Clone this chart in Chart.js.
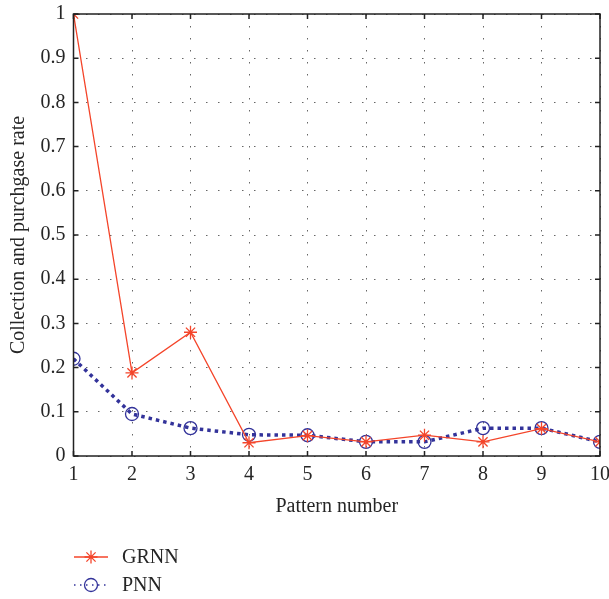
<!DOCTYPE html>
<html>
<head>
<meta charset="utf-8">
<script src="https://cdn.jsdelivr.net/npm/chart.js@4/dist/chart.umd.min.js"></script>
<style>
  html, body { margin: 0; padding: 0; background: #fff; }
  #wrap { width: 609px; height: 599px; }
</style>
</head>
<body>
<div id="wrap"><canvas id="chart"></canvas></div>
<script>
const patterns = [1, 2, 3, 4, 5, 6, 7, 8, 9, 10];
const grnnRate = [1.0, 0.188, 0.28, 0.03, 0.046, 0.032, 0.047, 0.032, 0.062, 0.032];
const pnnRate = [0.22, 0.095, 0.063, 0.048, 0.047, 0.032, 0.032, 0.063, 0.063, 0.032];

const FONT = "'Liberation Serif', 'DejaVu Serif', serif";
const TEXT = '#262626';
const SIZE = 20;

const toXY = (vals) => vals.map((v, i) => ({ x: patterns[i], y: v }));

// box around the plot with inward tick marks on every side
const framePlugin = {
  id: 'frame',
  afterDatasetsDraw(chart) {
    const { ctx, chartArea: a, scales } = chart;
    const len = 5;
    ctx.save();
    ctx.strokeStyle = '#222';
    ctx.lineWidth = 1.5;
    ctx.beginPath();
    scales.x.ticks.forEach(t => {
      const px = scales.x.getPixelForValue(t.value);
      ctx.moveTo(px, a.bottom); ctx.lineTo(px, a.bottom - len);
      ctx.moveTo(px, a.top); ctx.lineTo(px, a.top + len);
    });
    scales.y.ticks.forEach(t => {
      const py = scales.y.getPixelForValue(t.value);
      ctx.moveTo(a.left, py); ctx.lineTo(a.left + len, py);
      ctx.moveTo(a.right, py); ctx.lineTo(a.right - len, py);
    });
    ctx.stroke();
    ctx.strokeRect(a.left, a.top, a.right - a.left, a.bottom - a.top);
    ctx.restore();
  }
};

// legend below the axis: line sample with its marker, then the name
const sampleLegend = {
  id: 'sampleLegend',
  afterDraw(chart) {
    const { ctx } = chart;
    const x0 = 74, x1 = 108, tx = 122;
    const rows = [557, 585];
    ctx.save();
    chart.data.datasets.forEach((ds, i) => {
      const y = rows[i];
      ctx.strokeStyle = ds.borderColor;
      ctx.lineWidth = 1.5;
      ctx.setLineDash(ds.borderDash && ds.borderDash.length ? [1.5, 4.5] : []);
      ctx.beginPath();
      ctx.moveTo(x0, y); ctx.lineTo(x1, y);
      ctx.stroke();
      ctx.setLineDash([]);
      ctx.lineWidth = ds.pointBorderWidth;
      ctx.strokeStyle = ds.pointBorderColor;
      ctx.fillStyle = 'rgba(0,0,0,0)';
      Chart.helpers.drawPoint(ctx, {
        pointStyle: ds.pointStyle,
        radius: ds.pointRadius,
        borderWidth: ds.pointBorderWidth
      }, (x0 + x1) / 2, y);
      ctx.fillStyle = TEXT;
      ctx.font = SIZE + 'px ' + FONT;
      ctx.textBaseline = 'middle';
      ctx.fillText(ds.label, tx, y + 1);
    });
    ctx.restore();
  }
};

new Chart(document.getElementById('chart'), {
  type: 'line',
  data: {
    datasets: [
      {
        label: 'GRNN',
        data: toXY(grnnRate),
        borderColor: '#f4452a',
        borderWidth: 1.3,
        pointStyle: 'star',
        pointRadius: 6.5,
        pointBorderColor: '#f4452a',
        pointBorderWidth: 1.3,
        pointBackgroundColor: 'rgba(0,0,0,0)',
        order: 1
      },
      {
        label: 'PNN',
        data: toXY(pnnRate),
        borderColor: '#33339a',
        borderWidth: 3.5,
        borderDash: [3.5, 4],
        borderCapStyle: 'butt',
        pointStyle: 'circle',
        pointRadius: 6.5,
        pointBorderColor: '#33339a',
        pointBorderWidth: 1.3,
        pointBackgroundColor: 'rgba(0,0,0,0)',
        order: 2
      }
    ]
  },
  options: {
    responsive: true,
    maintainAspectRatio: false,
    animation: false,
    layout: { padding: { top: 14, right: 9, bottom: 80, left: 0 } },
    plugins: {
      legend: { display: false },
      tooltip: { enabled: false }
    },
    scales: {
      x: {
        type: 'linear',
        min: 1,
        max: 10,
        ticks: {
          stepSize: 1,
          padding: 7,
          color: TEXT,
          font: { family: FONT, size: SIZE },
          maxRotation: 0
        },
        grid: { color: '#666', lineWidth: 1, drawTicks: false },
        border: { display: false, dash: [1.5, 10.5] },
        title: {
          display: true,
          text: 'Pattern number',
          color: TEXT,
          font: { family: FONT, size: SIZE },
          padding: { top: 3, bottom: 0 }
        },
        afterFit(scale) {
          scale.height = 63;
          scale.paddingLeft = 0;
          scale.paddingRight = 0;
        }
      },
      y: {
        min: 0,
        max: 1,
        ticks: {
          stepSize: 0.1,
          padding: 8,
          color: TEXT,
          font: { family: FONT, size: SIZE },
          callback: (v) => String(Math.round(v * 10) / 10)
        },
        grid: { color: '#666', lineWidth: 1, drawTicks: false },
        border: { display: false, dash: [1.5, 10.5] },
        title: {
          display: true,
          text: 'Collection and purchgase rate',
          color: TEXT,
          font: { family: FONT, size: SIZE },
          padding: { top: 7, bottom: 2 }
        },
        afterFit(scale) {
          scale.width = 73.5;
          scale.paddingTop = 0;
          scale.paddingBottom = 0;
        }
      }
    }
  },
  plugins: [framePlugin, sampleLegend]
});
</script>
</body>
</html>
